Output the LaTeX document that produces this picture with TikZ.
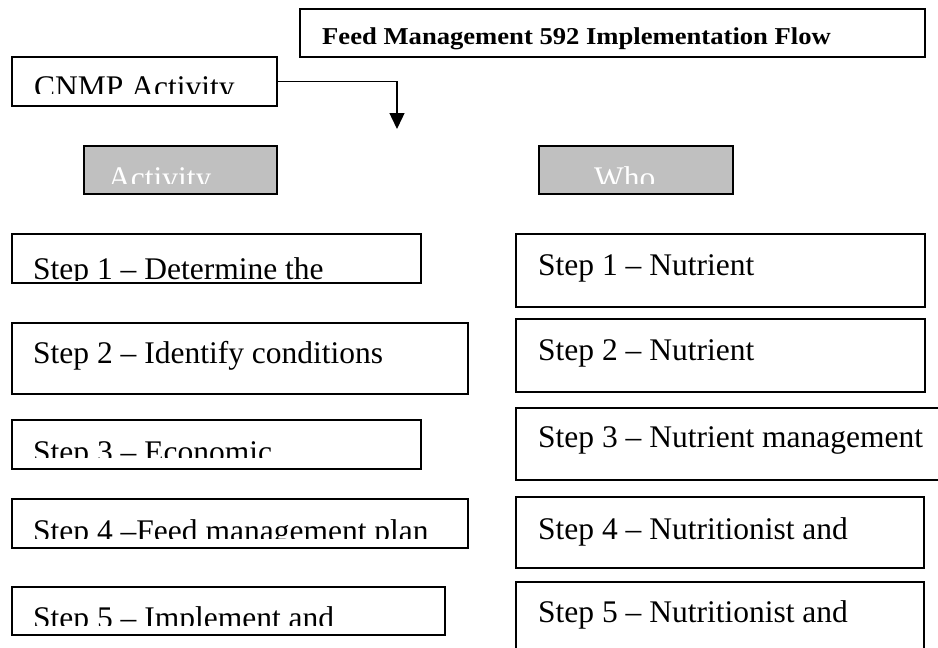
\documentclass[tikz,border=0pt]{standalone}
\usepackage{fontspec}
\setmainfont{Liberation Serif}
\usetikzlibrary{fit,arrows.meta}
\definecolor{headgray}{RGB}{192,192,192}
\begin{document}
\begin{tikzpicture}[x=1pt,y=-1pt,
  frame/.style={draw=black,line width=1.4pt,inner sep=0pt,fill=white},
  header/.style={frame,fill=headgray},
  steptext/.style={anchor=base west,inner sep=0pt,font=\fontsize{31.5}{36}\selectfont},
  headtext/.style={steptext,text=white},
  titletext/.style={anchor=base west,inner sep=0pt,font=\fontsize{24.2}{28}\selectfont\bfseries},
  flow/.style={line width=1.4pt,-{Triangle[length=16pt,width=15pt]}}]
\useasboundingbox (0,0) rectangle (938,648);

% title and source box
\node[frame,fit={(300,9) (925,57)}] (title) {};
\node[titletext] (titlelbl) at (322,44) {\scalebox{1.1}[1]{Feed Management 592 Implementation Flow}};

\node[frame,fit={(12,57) (277,106)}] (cnmp) {};
\begin{scope}
  \clip (12,57) rectangle (277,93);
  \node[steptext] (cnmplbl) at (34,97.5) {CNMP Activity};
\end{scope}

\coordinate (drop) at (397,129);
\draw[flow] (cnmp.east) -| (drop);

% column headers
\node[header,fit={(84,146) (277,194)}] (hact) {};
\node[header,fit={(539,146) (733,194)}] (hwho) {};
\begin{scope}
  \clip (84,146) rectangle (733,183);
  \node[headtext] (hactlbl) at (108,188) {Activity};
  \node[headtext] (hwholbl) at (594,188) {Who};
\end{scope}

% activity column
\node[frame,fit={(12,234) (421,283)}] (a1) {};
\node[frame,fit={(12,323) (468,394)}] (a2) {};
\node[frame,fit={(12,420) (421,469)}] (a3) {};
\node[frame,fit={(12,499) (468,548)}] (a4) {};
\node[frame,fit={(12,587) (445,635)}] (a5) {};

\begin{scope}
  \clip (12,234) rectangle (421,280.5);
  \node[steptext] (a1lbl) at (33,279) {Step 1 – Determine the};
\end{scope}
\begin{scope}
  \clip (12,323) rectangle (468,376);
  \node[steptext] (a2lbl) at (33,363.5) {Step 2 – Identify conditions};
\end{scope}
\begin{scope}
  \clip (12,420) rectangle (421,457);
  \node[steptext] (a3lbl) at (33,462) {Step 3 – Economic};
\end{scope}
\begin{scope}
  \clip (12,499) rectangle (468,538);
  \node[steptext] (a4lbl) at (33,541) {Step 4 –Feed management plan};
\end{scope}
\begin{scope}
  \clip (12,587) rectangle (445,625);
  \node[steptext] (a5lbl) at (33,628) {Step 5 – Implement and};
\end{scope}

% who column
\node[frame,fit={(516,234) (925,307)}] (w1) {};
\node[frame,fit={(516,319) (925,392)}] (w2) {};
\node[frame,fit={(516,408) (975,480)}] (w3) {};
\node[frame,fit={(516,497) (924,568)}] (w4) {};
\node[frame,fit={(516,582) (924,670)}] (w5) {};

\node[steptext] (w1lbl) at (538,275.5) {Step 1 – Nutrient};
\node[steptext] (w2lbl) at (538,360.5) {Step 2 – Nutrient};
\node[steptext] (w3lbl) at (538,447.5) {Step 3 – Nutrient management};
\node[steptext] (w4lbl) at (538,539.5) {Step 4 – Nutritionist and};
\node[steptext] (w5lbl) at (538,622.5) {Step 5 – Nutritionist and};
\end{tikzpicture}
\end{document}
